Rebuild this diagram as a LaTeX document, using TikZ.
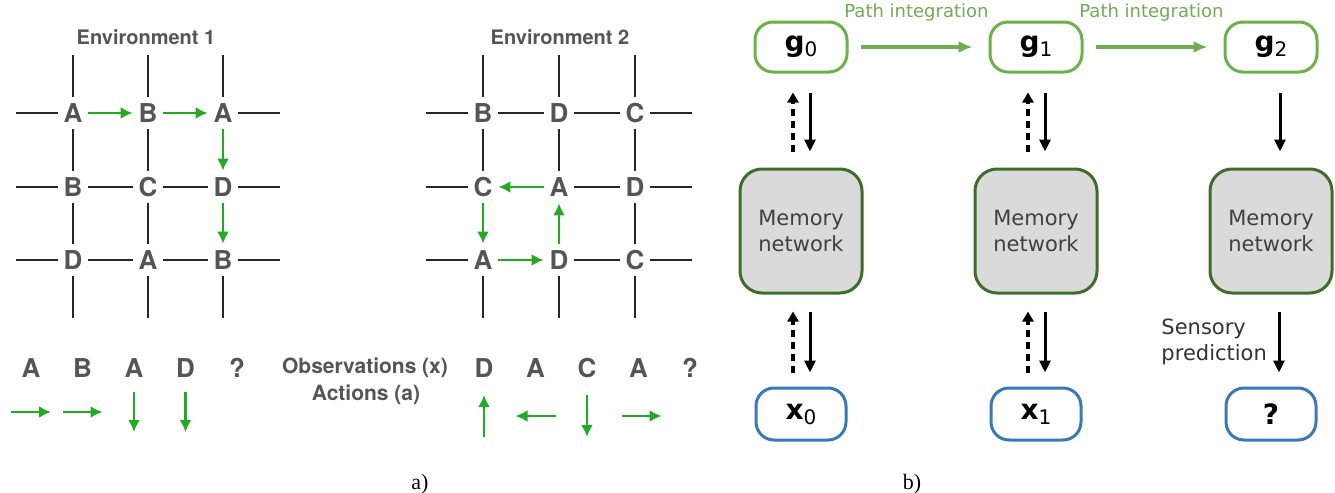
\documentclass[tikz,border=0pt]{standalone}
\usepackage{fontspec}
\setmainfont{Liberation Serif}
\newfontfamily\gridfont{TeX Gyre Heros}
\newfontfamily\boxfont{DejaVu Sans}
\usetikzlibrary{arrows.meta}
\usetikzlibrary{positioning}
\definecolor{lettergray}{RGB}{85,85,85}
\definecolor{movegreen}{RGB}{34,170,34}
\definecolor{ggreen}{RGB}{108,178,72}
\definecolor{pathgreen}{RGB}{112,172,82}
\definecolor{memgreen}{RGB}{62,108,42}
\definecolor{memfill}{RGB}{218,218,218}
\definecolor{xblue}{RGB}{58,120,182}
\begin{document}
\begin{tikzpicture}[
		x=0.5pt,y=-0.5pt,
		cell/.style={inner sep=0pt,minimum width=15pt,minimum height=16pt,text=lettergray,font=\gridfont\bfseries\fontsize{13}{14}\selectfont},
		obs/.style={inner sep=0pt,text=lettergray,font=\gridfont\bfseries\fontsize{13}{14}\selectfont},
		envtitle/.style={text=lettergray,font=\gridfont\bfseries\fontsize{10}{12}\selectfont},
		gridline/.style={draw=black!85,line width=0.8pt},
		move/.style={draw=movegreen,line width=1.2pt,-{Latex[length=6pt,width=6pt]}},
		gbox/.style={draw=ggreen,line width=1.5pt,fill=white,rectangle,rounded corners=9pt,minimum width=46pt,minimum height=25pt,font=\boxfont},
		xbox/.style={draw=xblue,line width=1.5pt,fill=white,rectangle,rounded corners=9pt,minimum width=45pt,minimum height=26pt,font=\boxfont},
		membox/.style={draw=memgreen,line width=1.5pt,fill=memfill,rectangle,rounded corners=11pt,minimum width=61pt,minimum height=62pt,align=center,text=black!75,font=\boxfont\fontsize{10.5}{13}\selectfont},
		pathint/.style={draw=pathgreen,line width=1.6pt,-{Latex[length=7pt,width=6pt]}},
		down/.style={draw=black,line width=1.5pt,-{Triangle[length=6pt,width=5.5pt]}},
		up/.style={draw=black,line width=2pt,dash pattern=on 3.5pt off 2.5pt,-{Triangle[length=5pt,width=5.5pt]}}
	]
		\useasboundingbox (0,0) rectangle (1335,493);

		% environment 1
		\node [envtitle] (title1) at (146,37) {Environment 1};
		\foreach \r/\y/\names in {1/113/{A,B,A},2/187/{B,C,D},3/260/{D,A,B}}
			\foreach \l [count=\c] in \names
				\node [cell] (ea-\r-\c) at ({73+75*(\c-1)},\y) {\l};
		\draw [gridline] (ea-2-1) -- (ea-2-2) -- (ea-2-3);
		\draw [gridline] (ea-3-1) -- (ea-3-2) -- (ea-3-3);
		\draw [gridline] (ea-1-1) -- (ea-2-1) -- (ea-3-1);
		\draw [gridline] (ea-1-2) -- (ea-2-2) -- (ea-3-2);
		\foreach \i in {1,2,3} {
			\draw [gridline] (ea-\i-1.west) -- ++(-42,0);
			\draw [gridline] (ea-\i-3.east) -- ++(42,0);
			\draw [gridline] (ea-1-\i.north) -- ++(0,-42);
			\draw [gridline] (ea-3-\i.south) -- ++(0,42);
		}
		\draw [move] (ea-1-1) -- (ea-1-2);
		\draw [move] (ea-1-2) -- (ea-1-3);
		\draw [move] (ea-1-3) -- (ea-2-3);
		\draw [move] (ea-2-3) -- (ea-3-3);

		% environment 2
		\node [envtitle] (title2) at (560,37) {Environment 2};
		\foreach \r/\y/\names in {1/113/{B,D,C},2/187/{C,A,D},3/260/{A,D,C}}
			\foreach \l [count=\c] in \names
				\node [cell] (eb-\r-\c) at ({483+76*(\c-1)},\y) {\l};
		\draw [gridline] (eb-1-1) -- (eb-1-2) -- (eb-1-3);
		\draw [gridline] (eb-2-2) -- (eb-2-3);
		\draw [gridline] (eb-3-2) -- (eb-3-3);
		\draw [gridline] (eb-1-1) -- (eb-2-1);
		\draw [gridline] (eb-1-2) -- (eb-2-2);
		\draw [gridline] (eb-1-3) -- (eb-2-3) -- (eb-3-3);
		\foreach \i in {1,2,3} {
			\draw [gridline] (eb-\i-1.west) -- ++(-42,0);
			\draw [gridline] (eb-\i-3.east) -- ++(42,0);
			\draw [gridline] (eb-1-\i.north) -- ++(0,-42);
			\draw [gridline] (eb-3-\i.south) -- ++(0,42);
		}
		\draw [move] (eb-2-2) -- (eb-2-1);
		\draw [move] (eb-2-1) -- (eb-3-1);
		\draw [move] (eb-3-1) -- (eb-3-2);
		\draw [move] (eb-3-2) -- (eb-2-2);

		% observations and actions
		\foreach \l [count=\i] in {A,B,A,D,?}
			\node [obs] (oa-\i) at ({31+51.5*(\i-1)},368) {\l};
		\foreach \l [count=\i] in {D,A,C,A,?}
			\node [obs] (ob-\i) at ({484+51.5*(\i-1)},368) {\l};
		\node [envtitle,font=\gridfont\bfseries\fontsize{10.5}{12}\selectfont] (obslabel) at (365,368) {Observations (x)};
		\node [envtitle,font=\gridfont\bfseries\fontsize{10.5}{12}\selectfont] (actlabel) at (366,395) {Actions (a)};
		\draw [move] ([shift={(-20,44)}]oa-1.center) -- ++(40,0);
		\draw [move] ([shift={(-20,44)}]oa-2.center) -- ++(40,0);
		\draw [move] ([shift={(0,24)}]oa-3.center) -- ++(0,40);
		\draw [move] ([shift={(0,24)}]oa-4.center) -- ++(0,40);
		\draw [move] ([shift={(0,69)}]ob-1.center) -- ++(0,-42);
		\draw [move] ([shift={(20,48)}]ob-2.center) -- ++(-40,0);
		\draw [move] ([shift={(0,27)}]ob-3.center) -- ++(0,42);
		\draw [move] ([shift={(-17,48)}]ob-4.center) -- ++(40,0);
		\node [font=\fontsize{11}{12}\selectfont] (cap_a) at (420,484) {a)};

		% model
		\node [gbox] (g0) at (801,47) {{\fontsize{14}{14}\selectfont\bfseries g}\raisebox{-2.5pt}{\fontsize{10}{10}\selectfont 0}};
		\node [gbox,right=70pt of g0] (g1) {{\fontsize{14}{14}\selectfont\bfseries g}\raisebox{-2.5pt}{\fontsize{10}{10}\selectfont 1}};
		\node [gbox,right=70pt of g1] (g2) {{\fontsize{14}{14}\selectfont\bfseries g}\raisebox{-2.5pt}{\fontsize{10}{10}\selectfont 2}};

		\node [membox,below=47pt of g0] (mem0) {Memory\\network};
		\node [membox,below=47pt of g1] (mem1) {Memory\\network};
		\node [membox,below=47pt of g2] (mem2) {Memory\\network};

		\node [xbox,below=46pt of mem0] (x0) {{\fontsize{14}{14}\selectfont\bfseries x}\raisebox{-2.5pt}{\fontsize{10}{10}\selectfont 0}};
		\node [xbox,below=46pt of mem1] (x1) {{\fontsize{14}{14}\selectfont\bfseries x}\raisebox{-2.5pt}{\fontsize{10}{10}\selectfont 1}};
		\node [xbox,below=46pt of mem2] (x2) {{\fontsize{14}{14}\selectfont\bfseries ?}};

		\draw [pathint] ([xshift=6pt]g0.east) -- ([xshift=-8pt]g1.west)
			node [midway,above=8.5pt,text=pathgreen,font=\boxfont\fontsize{9}{10}\selectfont] (pi1) {Path integration};
		\draw [pathint] ([xshift=6pt]g1.east) -- ([xshift=-8pt]g2.west)
			node [midway,above=8.5pt,text=pathgreen,font=\boxfont\fontsize{9}{10}\selectfont] (pi2) {Path integration};

		\foreach \i in {0,1} {
			\draw [down] ([xshift=4.5pt,yshift=-9.5pt]g\i.south) -- ([xshift=4.5pt,yshift=8pt]mem\i.north);
			\draw [up] ([xshift=-4pt,yshift=8pt]mem\i.north) -- ([xshift=-4pt,yshift=-9.5pt]g\i.south);
			\draw [down] ([xshift=4.5pt,yshift=-8.5pt]mem\i.south) -- ([xshift=4.5pt,yshift=7pt]x\i.north);
			\draw [up] ([xshift=-4pt,yshift=7pt]x\i.north) -- ([xshift=-4pt,yshift=-8.5pt]mem\i.south);
		}
		\draw [down] ([xshift=4.5pt,yshift=-9.5pt]g2.south) -- ([xshift=4.5pt,yshift=8pt]mem2.north);
		\draw [down] ([xshift=4pt,yshift=-8.5pt]mem2.south) -- ([xshift=4pt,yshift=7pt]x2.north)
			node [midway,left=2pt,align=left,text=black!80,font=\boxfont\fontsize{10.5}{13}\selectfont] (sensory) {Sensory\\prediction};
		\node [font=\fontsize{11}{12}\selectfont] (cap_b) at (912,484) {b)};
	\end{tikzpicture}
\end{document}
